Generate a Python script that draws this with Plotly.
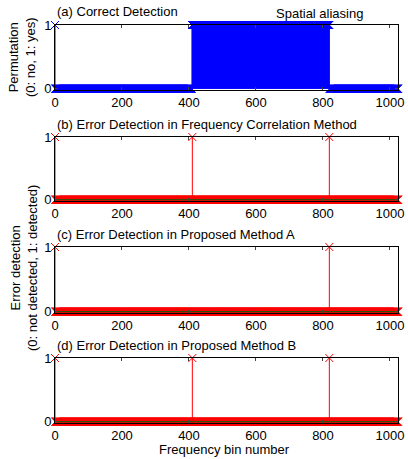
import plotly.graph_objects as go

# ---- data ----
n_bins = 1025                      # frequency bins 0..1024
perm_run_starts = [0, 1, 409, 820]  # bins where the permutation flag changes
perm_run_values = [1, 0, 1, 0]
det_freqcorr = [0, 410, 819]        # bins flagged by frequency correlation method
det_methodA = [0, 819]              # bins flagged by proposed method A
det_methodB = [0, 410, 819]         # bins flagged by proposed method B
x_ticks = [0, 200, 400, 600, 800, 1000]
aliasing_start = 195
panel_titles = ["(a) Correct Detection",
                "(b) Error Detection in Frequency Correlation Method",
                "(c) Error Detection in Proposed Method A",
                "(d) Error Detection in Proposed Method B"]

bins = list(range(n_bins))
perm = []
for i, s in enumerate(perm_run_starts):
    e = perm_run_starts[i + 1] if i + 1 < len(perm_run_starts) else n_bins
    perm += [perm_run_values[i]] * (e - s)

def flags(idx):
    v = [0] * n_bins
    for k in idx:
        v[k] = 1
    return v

series = [perm, flags(det_freqcorr), flags(det_methodA), flags(det_methodB)]
colors = ["#0000ff", "#ff0000", "#ff0000", "#ff0000"]

W, H = 408, 459
ML, MR, MT, MB = 55, 10, 25, 36
PW, PH = W - ML - MR, H - MT - MB

def xp(px):
    return (px - ML) / PW

def yp(py):
    return 1 - (py - MT) / PH

FONT = "Liberation Sans, Arial, sans-serif"
FS = 13
tops = [25, 137, 247, 358]
bots = [90, 201, 313, 423]

fig = go.Figure()
for p in range(4):
    xa = "x" if p == 0 else f"x{p+1}"
    ya = "y" if p == 0 else f"y{p+1}"
    vals = series[p]
    sx, sy = [], []
    for b, v in zip(bins, vals):
        if v != 0:
            sx += [b, b, None]
            sy += [0, v, None]
    fig.add_trace(go.Scatter(x=sx, y=sy, mode="lines", xaxis=xa, yaxis=ya,
                             line=dict(color=colors[p], width=1),
                             hoverinfo="skip", showlegend=False, cliponaxis=False))
    fig.add_trace(go.Scatter(x=bins, y=vals, mode="markers", xaxis=xa, yaxis=ya,
                             marker=dict(symbol="x-thin", size=8, color=colors[p],
                                         line=dict(color=colors[p], width=1)),
                             showlegend=False, cliponaxis=False))
    if p > 0:
        fig.add_trace(go.Scatter(x=[0, n_bins - 1], y=[0, 0], mode="lines",
                                 xaxis=xa, yaxis=ya,
                                 line=dict(color="#006000", width=1),
                                 showlegend=False, cliponaxis=False))
    axd = dict(domain=[0, 1], range=[0, n_bins - 1], tickvals=x_ticks,
               ticktext=[str(t) for t in x_ticks], ticks="inside", ticklen=3,
               showline=True, linecolor="black", linewidth=1, mirror="ticks",
               showgrid=False, zeroline=False, anchor=ya, automargin=False,
               tickfont=dict(family=FONT, size=FS, color="black"))
    ayd = dict(domain=[yp(bots[p]), yp(tops[p])], range=[-0.02, 1],
               tickvals=[0, 1], ticktext=["0", "1"], ticks="inside", ticklen=3,
               showline=True, linecolor="black", linewidth=1, mirror="ticks",
               showgrid=False, zeroline=False, anchor=xa, automargin=False,
               tickfont=dict(family=FONT, size=FS, color="black"))
    key = "" if p == 0 else str(p + 1)
    fig.update_layout(**{"xaxis" + key: axd, "yaxis" + key: ayd})
    fig.add_annotation(text=panel_titles[p], xref="paper", yref="paper",
                       x=xp(55), y=yp(tops[p] - 13), xanchor="left",
                       yanchor="middle", showarrow=False,
                       font=dict(family=FONT, size=FS, color="black"))

# spatial aliasing bracket
ya_line = 1.077
fig.add_shape(type="line", xref="x", yref="y", x0=aliasing_start, x1=n_bins - 1,
              y0=ya_line, y1=ya_line, line=dict(color="black", width=1, dash="dot"))
fig.add_shape(type="line", xref="x", yref="y", x0=aliasing_start, x1=aliasing_start,
              y0=1.03, y1=1.12, line=dict(color="black", width=1, dash="dot"))
fig.add_trace(go.Scatter(x=[n_bins - 1], y=[ya_line], mode="markers", xaxis="x", yaxis="y",
                         marker=dict(symbol="triangle-right", size=5, color="black"),
                         showlegend=False, cliponaxis=False, hoverinfo="skip"))
fig.add_annotation(text="Spatial aliasing", xref="x", yref="paper", x=790,
                   y=yp(13), xanchor="center", yanchor="middle", showarrow=False,
                   font=dict(family=FONT, size=FS, color="black"))

# axis titles
fig.add_annotation(text="Permutation<br>(0: no, 1: yes)", xref="paper", yref="paper",
                   x=xp(22), y=yp(58), xanchor="center", yanchor="middle",
                   textangle=-90, showarrow=False,
                   font=dict(family=FONT, size=FS, color="black"))
fig.add_annotation(text="Error detection<br>(0: not detected, 1: detected)",
                   xref="paper", yref="paper", x=xp(24), y=yp(268),
                   xanchor="center", yanchor="middle", textangle=-90,
                   showarrow=False, font=dict(family=FONT, size=FS, color="black"))
fig.add_annotation(text="Frequency bin number", xref="paper", yref="paper",
                   x=xp(224), y=yp(450), xanchor="center", yanchor="middle",
                   showarrow=False, font=dict(family=FONT, size=FS, color="black"))

fig.update_layout(width=W, height=H, margin=dict(l=ML, r=MR, t=MT, b=MB, pad=0),
                  paper_bgcolor="white", plot_bgcolor="white", showlegend=False,
                  hovermode=False)
fig.write_html("out.html", config={"displayModeBar": False},
               post_script="document.body.style.margin='0';"
                           "document.body.style.overflow='hidden';")
